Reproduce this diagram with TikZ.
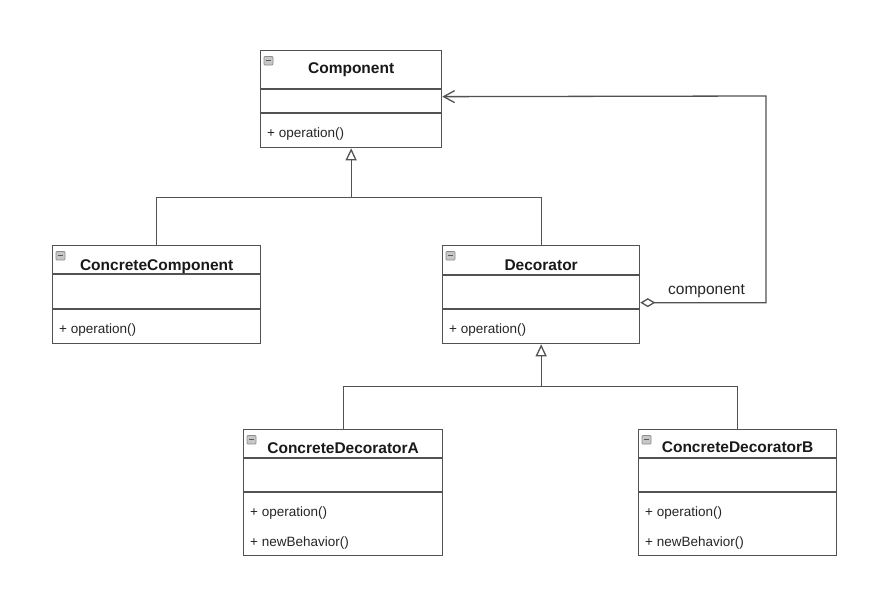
\documentclass[tikz,border=0pt]{standalone}
\usepackage{fontspec}
\setmainfont{Liberation Sans}
\usetikzlibrary{arrows.meta,calc}
\begin{document}
\begin{tikzpicture}[x=1pt,y=-1pt,
  line/.style={draw=black!68, line width=1.3pt},
  classbox/.style={line, rectangle, fill=white, inner sep=0pt, anchor=north west},
  title/.style={font=\fontsize{15.5}{18}\selectfont\bfseries, text=black!90, inner sep=0pt, anchor=base},
  member/.style={font=\fontsize{13.5}{16}\selectfont, text=black!85, inner sep=0pt, anchor=base west},
  rolelabel/.style={font=\fontsize{15.5}{18}\selectfont, text=black!85, inner sep=0pt, anchor=base west},
  inherit/.style={line, -{Triangle[open, length=12pt, width=11pt, line width=1.3pt]}},
  aggregate/.style={line, {Diamond[open, length=15pt, width=9pt, line width=1.3pt]}-{Straight Barb[length=11pt, width=12pt, line width=1.3pt]}},
  iconbox/.style={draw=black!45, fill=black!22, line width=0.7pt, rounded corners=0.8pt},
  iconbar/.style={draw=black!65, line width=1pt}
]
\useasboundingbox[fill=white] (0,0) rectangle (891,592);

% class boxes
\node[classbox, minimum width=181pt, minimum height=97pt]  (comp) at (260,50)  {};
\node[classbox, minimum width=208pt, minimum height=98pt]  (cc)   at (52,245)  {};
\node[classbox, minimum width=197pt, minimum height=98pt]  (dec)  at (442,245) {};
\node[classbox, minimum width=199pt, minimum height=126pt] (cda)  at (243,429) {};
\node[classbox, minimum width=198pt, minimum height=126pt] (cdb)  at (638,429) {};

% compartment separators
\draw[line] ($(comp.north west)+(0,39)$) -- ($(comp.north east)+(0,39)$);
\draw[line] ($(comp.north west)+(0,63)$) -- ($(comp.north east)+(0,63)$);
\foreach \n/\a/\b in {cc/29/64, dec/30/64, cda/29/63, cdb/29/63} {
  \draw[line] ($(\n.north west)+(0,\a)$) -- ($(\n.north east)+(0,\a)$);
  \draw[line] ($(\n.north west)+(0,\b)$) -- ($(\n.north east)+(0,\b)$);
}

% collapse icons
\foreach \n in {comp,cc,dec,cda,cdb} {
  \draw[iconbox] ($(\n.north west)+(4,6.5)$) rectangle ++(9,8.5);
  \draw[iconbar] ($(\n.north west)+(6,10.8)$) -- ++(5,0);
}

% class names
\node[title] (compT) at ($(comp.north)+(0,23)$) {Component};
\node[title] (ccT)   at ($(cc.north)+(0,25)$)   {ConcreteComponent};
\node[title] (decT)  at ($(dec.north)+(0,25)$)  {Decorator};
\node[title] (cdaT)  at ($(cda.north)+(0,24)$)  {ConcreteDecoratorA};
\node[title] (cdbT)  at ($(cdb.north)+(0,23)$)  {ConcreteDecoratorB};

% operations
\node[member] (compOp) at ($(comp.north west)+(7,87)$)  {+ operation()};
\node[member] (ccOp)   at ($(cc.north west)+(7,88.5)$)  {+ operation()};
\node[member] (decOp)  at ($(dec.north west)+(7,88.5)$) {+ operation()};
\node[member] (cdaOp)  at ($(cda.north west)+(7,87.5)$) {+ operation()};
\node[member] (cdaNb)  at ($(cda.north west)+(7,117.5)$) {+ newBehavior()};
\node[member] (cdbOp)  at ($(cdb.north west)+(7,87.5)$) {+ operation()};
\node[member] (cdbNb)  at ($(cdb.north west)+(7,117.5)$) {+ newBehavior()};

% generalisation: ConcreteComponent, Decorator -> Component
\coordinate (bus1) at ($(comp.south)+(0,49)$);
\draw[line] (cc.north) |- (bus1) -| (dec.north);
\draw[inherit] (bus1) -- (comp.south);

% generalisation: ConcreteDecoratorA, ConcreteDecoratorB -> Decorator
\coordinate (bus2) at ($(dec.south)+(0,42)$);
\draw[line] (cda.north) |- (bus2) -| (cdb.north);
\draw[inherit] (bus2) -- (dec.south);

% aggregation: Decorator holds a component
\coordinate (corner) at (766,96);
\draw[aggregate] ([yshift=-8pt]dec.east) -| (corner) -- ([yshift=2.5pt]comp.east);
\node[rolelabel] (role) at (668,294) {component};

\end{tikzpicture}
\end{document}
